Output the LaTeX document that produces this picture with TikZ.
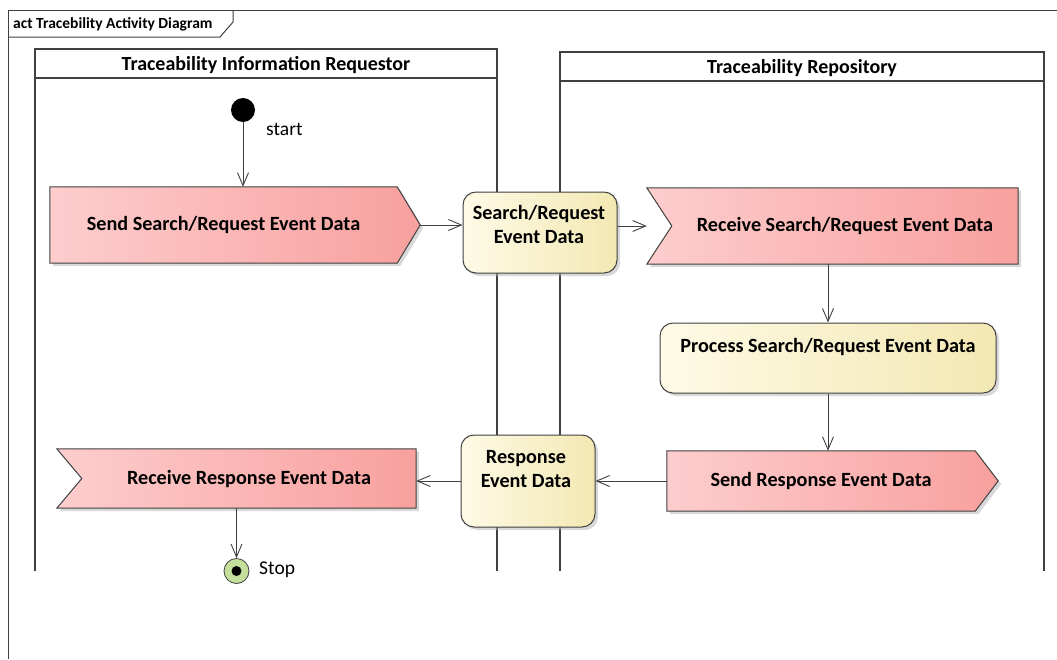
\documentclass[tikz,border=0pt]{standalone}
\usepackage{fontspec}
\setmainfont{Carlito}
\usetikzlibrary{arrows.meta,shadows,backgrounds}
\definecolor{linegray}{HTML}{404040}
\definecolor{actL}{HTML}{FDCDCD}
\definecolor{actR}{HTML}{F8A09E}
\definecolor{objL}{HTML}{FEFAE6}
\definecolor{objR}{HTML}{F3E8B3}
\definecolor{finalgreen}{HTML}{C5DF9C}
\tikzset{
  frameline/.style={draw=linegray, line width=1pt},
  laneline/.style={draw=linegray, line width=1.3pt},
  box/.style={rectangle, draw=none, inner sep=0pt},
  bigtext/.style={font=\fontsize{20.2}{24}\selectfont\bfseries, inner sep=0pt, align=center},
  headtext/.style={font=\fontsize{20}{24}\selectfont\bfseries, inner sep=0pt},
  smalltext/.style={font=\fontsize{19.5}{23}\selectfont, inner sep=0pt},
  softshadow/.style={drop shadow={shadow xshift=3pt, shadow yshift=-3pt, fill=black!30, opacity=.5}},
  actshape/.style={draw=linegray, line width=1pt, left color=actL, right color=actR, softshadow},
  objnode/.style={rectangle, rounded corners=13pt, draw=linegray, line width=1pt, left color=objL, right color=objR, softshadow, inner sep=0pt},
  flow/.style={draw=linegray, line width=0.9pt, -{Straight Barb[length=13pt,width=11pt]}},
}
\begin{document}
\begin{tikzpicture}[x=1pt,y=-1pt]
\useasboundingbox (0,0) rectangle (1057,659);

% diagram frame with its name tab
\draw[frameline] (8,659) -- (8,10) -- (1057,10);
\draw[frameline] (8,37) -- (220,37) -- (233,22) -- (233,10);
\node[font=\fontsize{15.5}{18}\selectfont\bfseries, anchor=west, inner sep=0pt] (title) at (13,24) {act Tracebility Activity Diagram};

% swimlanes
\draw[laneline] (35,571) -- (35,49) -- (497,49) -- (497,571);
\draw[laneline] (35,78) -- (497,78);
\node[headtext] (lane1) at (266,65) {Traceability Information Requestor};
\draw[laneline] (560,571) -- (560,52) -- (1044,52) -- (1044,571);
\draw[laneline] (560,81) -- (1044,81);
\node[headtext] (lane2) at (802,68) {Traceability Repository};

% initial node
\node[circle, fill=black, minimum size=24pt, inner sep=0pt] (start) at (243,110) {};
\node[smalltext, anchor=west] (startlbl) at (266,129) {start};

% action and signal nodes (outline boxes)
\node[box, minimum width=370pt, minimum height=76pt] (sendreq) at (235,225) {};
\node[box, minimum width=371pt, minimum height=76pt] (recvreq) at (832.5,226) {};
\node[box, minimum width=331pt, minimum height=60pt] (sendresp) at (832.5,481) {};
\node[box, minimum width=359pt, minimum height=59pt] (recvresp) at (236.5,478.5) {};

\begin{scope}[on background layer]
\path[actshape] (sendreq.north west) -- ([xshift=-23pt]sendreq.north east) -- (sendreq.east)
  -- ([xshift=-23pt]sendreq.south east) -- (sendreq.south west) -- cycle;
\path[actshape] (recvreq.north west) -- (recvreq.north east) -- (recvreq.south east)
  -- (recvreq.south west) -- ([xshift=25pt]recvreq.west) -- cycle;
\path[actshape] (sendresp.north west) -- ([xshift=-23pt]sendresp.north east) -- (sendresp.east)
  -- ([xshift=-23pt]sendresp.south east) -- (sendresp.south west) -- cycle;
\path[actshape] (recvresp.north west) -- (recvresp.north east) -- (recvresp.south east)
  -- (recvresp.south west) -- ([xshift=25pt]recvresp.west) -- cycle;
\end{scope}

\node[bigtext] (sendreqtxt) at ([xshift=-11.5pt]sendreq) {Send Search/Request Event Data};
\node[bigtext] (recvreqtxt) at ([xshift=12.5pt]recvreq) {Receive Search/Request Event Data};
\node[bigtext] (sendresptxt) at ([xshift=-11.5pt]sendresp) {Send Response Event Data};
\node[bigtext] (recvresptxt) at ([xshift=12.5pt]recvresp) {Receive Response Event Data};

% process action
\node[objnode, minimum width=336pt, minimum height=70pt] (process) at (828,358) {};
\node[bigtext] (processtxt) at (828,347) {Process Search/Request Event Data};

% object nodes
\node[objnode, minimum width=154pt, minimum height=81pt] (searchobj) at (540,232.5) {};
\node[bigtext] (searchobjtxt) at (539,224) {Search/Request\\Event Data};
\node[objnode, minimum width=134pt, minimum height=92pt] (respobj) at (528,481) {};
\node[bigtext] (respobjtxt) at (526,469) {Response\\Event Data};

% final node
\node[circle, draw=linegray, line width=0.8pt, fill=finalgreen, minimum size=25pt, inner sep=0pt] (stop) at (236.5,571) {};
\fill[black] (stop) circle (5pt);
\node[smalltext, anchor=west] (stoplbl) at (259,570) {Stop};

% control and object flows
\draw[flow] (start.south) -- (start.south |- sendreq.north);
\draw[flow] (sendreq.east) -- (sendreq.east -| searchobj.west);
\draw[flow] (searchobj.east |- recvreq.west) -- (recvreq.west);
\draw[flow] (process.north |- recvreq.south) -- (process.north);
\draw[flow] (process.south) -- (process.south |- sendresp.north);
\draw[flow] (sendresp.west) -- (sendresp.west -| respobj.east);
\draw[flow] (respobj.west) -- (respobj.west -| recvresp.east);
\draw[flow] (recvresp.south -| stop.north) -- (stop.north);
\end{tikzpicture}
\end{document}
